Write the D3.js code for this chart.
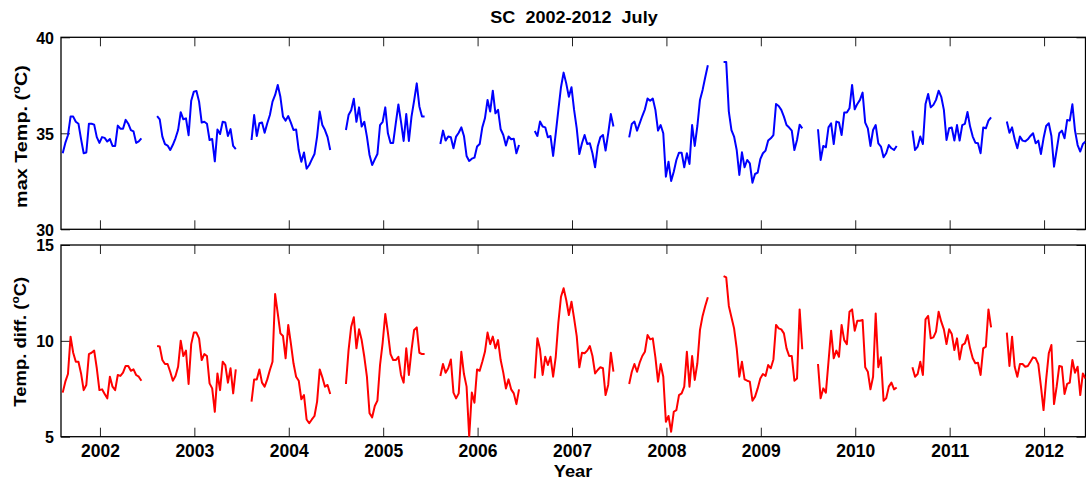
<!DOCTYPE html>
<html><head><meta charset="utf-8">
<script src="https://cdn.jsdelivr.net/npm/d3@7"></script>
<style>
html,body{margin:0;padding:0;background:#fff;}
svg{display:block;}
text{font-family:"Liberation Sans",Arial,Helvetica,sans-serif;font-weight:bold;fill:#000;}
</style></head><body>
<svg id="chart" width="1086" height="483"></svg>
<script>
// ---------------- data ----------------
const years = [2002,2003,2004,2005,2006,2007,2008,2009,2010,2011,2012];
const maxTempTicks = [30,35,40];
const tempDiffTicks = [5,10,15];
const titleText = "SC  2002-2012  July";

// daily values, July 1..31 of each year
const maxTemp = [
 [33.96,34.5,34.9,35.87,35.87,35.6,35.5,34.7,33.96,34.0,35.5,35.5,35.45,34.8,34.5,34.8,34.76,34.57,34.7,34.34,34.34,35.4,35.24,35.24,35.7,35.5,35.17,35.1,34.5,34.58,34.74],
 [35.9,35.73,34.83,34.44,34.36,34.13,34.4,34.74,35.17,36.1,35.73,35.78,34.9,36.7,37.17,37.2,36.65,35.56,35.6,35.5,34.65,34.7,33.54,35.2,34.96,35.6,35.56,34.86,35.22,34.34,34.17],
 [34.65,35.95,34.86,35.52,35.56,35.03,35.52,35.95,36.65,37.0,37.52,36.9,35.87,35.66,35.9,35.56,35.17,35.2,34.13,33.52,34.0,33.16,33.35,33.64,33.92,34.83,36.13,35.43,35.17,34.8,34.13],
 [35.17,35.95,36.2,36.8,35.6,36.35,35.35,35.6,34.83,33.87,33.35,33.64,33.92,35.43,35.6,36.35,35.0,34.5,34.5,35.52,36.5,35.6,34.6,36.0,34.6,35.87,36.7,37.6,36.4,35.87,35.87],
 [34.44,35.14,34.62,34.83,34.79,34.22,34.83,35.03,35.31,34.86,33.82,33.56,33.68,33.73,34.31,34.44,35.31,35.78,36.74,36.13,37.22,36.04,36.22,35.21,34.91,34.36,34.83,34.69,34.72,33.96,34.39],
 [35.12,34.86,35.61,35.35,35.31,34.79,34.86,33.82,35.0,36.22,37.4,38.16,37.6,36.9,37.4,36.22,35.26,33.92,34.48,34.91,34.44,34.48,33.96,33.23,34.31,34.79,34.91,34.1,35.0,36.0,35.35],
 [34.79,35.49,35.61,35.14,35.52,35.9,36.25,36.81,36.7,36.81,36.22,35.14,35.43,35.0,32.74,33.52,32.52,33.0,33.61,33.99,33.99,33.23,33.96,33.4,35.43,34.34,35.38,36.74,37.26,37.92,38.54],
 [38.72,38.72,36.13,35.17,34.83,34.13,32.83,34.01,33.23,33.61,33.44,32.43,32.88,32.95,33.65,33.96,34.1,34.62,34.74,34.91,36.53,36.42,36.22,35.87,35.43,35.3,35.14,34.13,34.65,35.45,35.26],
 [35.21,33.61,34.34,34.27,35.31,35.52,34.44,35.61,35.56,34.91,36.08,36.08,36.3,37.52,36.25,36.53,36.74,37.12,35.56,35.26,34.34,35.17,35.43,34.48,34.31,33.75,33.96,34.39,34.22,34.13,34.34],
 [35.14,34.13,34.31,34.83,34.44,36.53,37.05,36.35,36.48,36.74,37.22,36.9,36.22,34.65,35.26,35.3,34.62,35.43,34.62,35.43,35.49,36.11,35.35,34.83,34.51,34.48,33.96,35.3,35.26,35.66,35.83],
 [35.61,35.03,35.31,34.69,34.22,34.83,34.62,34.58,34.69,34.86,35.0,34.48,34.62,33.92,34.74,35.38,35.52,34.86,33.26,34.13,35.0,35.14,34.74,35.69,35.66,36.51,35.14,34.39,34.05,34.44,34.57]
];
const tempDiff = [
 [7.30,7.87,8.27,10.22,9.38,8.91,8.91,8.30,7.43,7.70,9.31,9.38,9.49,8.57,7.43,7.47,7.23,7.0,8.13,7.61,7.43,8.22,8.17,8.34,8.69,8.69,8.44,8.51,8.22,8.13,7.92],
 [9.73,9.70,9.0,8.79,8.79,8.39,7.92,8.17,8.65,10.01,9.21,9.49,7.75,9.83,10.43,10.43,10.13,9.0,9.31,9.21,7.78,7.52,6.30,8.30,7.43,8.91,8.74,7.82,8.57,7.26,8.51],
 [6.83,7.99,7.99,8.51,7.82,7.61,7.99,8.48,8.91,12.44,11.43,10.39,10.25,9.09,10.83,9.87,8.83,8.13,7.92,6.95,7.17,5.90,5.70,5.90,6.08,6.83,8.51,8.10,7.61,7.70,7.23],
 [7.75,9.52,10.74,11.23,9.61,10.60,10.04,9.17,8.13,6.22,6.01,6.60,6.88,8.74,9.90,11.40,10.43,9.31,9.0,9.0,9.17,8.22,7.82,9.61,8.22,9.52,10.57,10.70,9.38,9.31,9.31],
 [8.17,8.79,8.34,8.57,9.03,7.30,7.0,7.26,9.43,8.27,7.61,5.0,7.30,6.77,8.51,8.44,8.91,9.43,10.43,9.83,10.22,9.61,10.04,9.0,8.34,7.52,7.99,7.47,7.26,6.70,7.47],
 [8.04,10.13,9.56,8.22,9.17,8.74,9.17,8.13,9.17,10.95,12.30,12.74,12.13,11.35,12.04,11.17,10.25,8.62,9.38,9.35,9.49,9.73,9.21,8.30,8.48,8.62,8.57,7.17,7.70,9.38,8.39],
 [7.75,8.39,8.79,8.39,8.86,9.21,9.43,10.30,10.08,10.13,9.14,7.87,8.79,8.13,5.78,6.08,5.26,6.30,6.39,7.17,7.26,7.61,9.43,7.61,9.21,7.96,8.83,10.57,11.30,11.82,12.27],
 [13.38,13.31,11.82,11.23,10.65,9.61,8.13,8.91,7.99,7.92,7.87,6.88,7.09,7.52,8.04,8.27,8.17,8.74,8.57,9.03,10.83,10.65,10.60,10.39,9.61,9.21,9.21,7.92,8.04,11.64,9.56],
 [8.79,7.0,7.52,7.30,8.91,10.53,9.09,9.49,9.17,10.83,10.04,9.83,11.52,11.64,10.53,11.05,11.05,11.09,8.62,8.39,7.47,8.13,11.43,8.62,9.14,6.88,7.0,7.61,7.82,7.47,7.57],
 [8.62,8.13,8.27,8.91,8.22,11.12,11.30,10.13,10.18,10.48,11.52,11.0,10.60,9.83,10.60,10.36,9.52,10.13,9.03,9.78,9.87,10.30,9.61,9.09,8.83,8.86,8.22,9.61,9.70,11.64,10.70],
 [10.43,8.69,10.22,8.65,8.13,8.79,8.79,8.65,8.69,8.91,9.14,9.09,8.79,7.64,6.39,7.99,9.35,9.78,6.70,7.61,8.69,8.65,7.23,7.75,7.82,9.0,8.34,8.65,7.17,8.30,8.04]
];

// ---------------- layout ----------------
const svg = d3.select('#chart');
const slot = 36;        // index slots per year (31 days + gap)
const tickDay = 14.2;   // position of the year tick inside its slot
const X0 = 61, X1 = 1085.5;
const x = d3.scaleLinear().domain([-0.65, (years.length-1)*slot + 30]).range([X0, X1]);

function toPoints(rows){
  const pts = [];
  rows.forEach((row, j) => {
    row.forEach((v, d) => pts.push({i: j*slot + d, v}));
    pts.push({i: j*slot + 31, v: NaN});
  });
  return pts;
}

function panel(id, top, bottom, domain, ticks, rows, color, showYears){
  const y = d3.scaleLinear().domain(domain).range([bottom, top]);
  const g = svg.append('g');
  g.append('clipPath').attr('id', 'clip'+id).append('rect')
    .attr('x', X0).attr('y', top).attr('width', X1-X0).attr('height', bottom-top);

  const tickPos = years.map((yr, j) => j*slot + tickDay);
  const strip = s => s.select('.domain').remove();

  const axB = g.append('g').attr('transform', `translate(0,${bottom})`)
    .call(d3.axisBottom(x).tickValues(tickPos).tickSize(-9).tickPadding(8)
      .tickFormat((d, k) => showYears ? years[k] : ''));
  strip(axB);
  strip(g.append('g').attr('transform', `translate(0,${top})`)
    .call(d3.axisTop(x).tickValues(tickPos).tickSize(-9).tickFormat('')));
  const axL = g.append('g').attr('transform', `translate(${X0},0)`)
    .call(d3.axisLeft(y).tickValues(ticks).tickSize(-9).tickPadding(7));
  strip(axL);
  strip(g.append('g').attr('transform', `translate(${X1},0)`)
    .call(d3.axisRight(y).tickValues(ticks).tickSize(-9).tickFormat('')));

  g.selectAll('.tick line').attr('stroke', '#222').attr('stroke-width', 1);
  axL.selectAll('text').attr('font-size', null).style('font-size', '16px').attr('dy', '0.36em');
  axB.selectAll('text').style('font-size', '17.5px');
  g.selectAll('.tick text').attr('font-family', null);

  g.append('rect').attr('x', X0).attr('y', top).attr('width', X1-X0).attr('height', bottom-top)
    .attr('fill', 'none').attr('stroke', '#000').attr('stroke-width', 1.3);

  const line = d3.line().defined(d => !isNaN(d.v)).x(d => x(d.i)).y(d => y(d.v));
  g.append('path').datum(toPoints(rows))
    .attr('clip-path', `url(#clip${id})`)
    .attr('d', line).attr('fill', 'none').attr('stroke', color)
    .attr('stroke-width', 2).attr('stroke-linejoin', 'round');
}

panel('a', 37.3, 229.3, [30,40], maxTempTicks, maxTemp, '#0000ff', false);
panel('b', 245, 436.7, [5,15], tempDiffTicks, tempDiff, '#ff0000', true);

// ---------------- text ----------------
function fit(t, target, tx, ty, rot){
  const w = t.node().getBBox().width;
  const s = target / w;
  t.attr('transform', `translate(${tx},${ty})` + (rot ? ` rotate(${rot})` : '') + ` scale(${s},1)`);
}

const title = svg.append('text').attr('text-anchor', 'middle').style('font-size', '17px')
  .style('white-space', 'pre').attr('xml:space', 'preserve').text(titleText);
fit(title, 168, 574, 23.3, 0);

function ylab(main, cx, cy, len){
  const t = svg.append('text').attr('text-anchor', 'middle').style('font-size', '17px');
  t.append('tspan').text(main + ' (');
  t.append('tspan').text('o').style('font-size', '11px').attr('dy', -7);
  t.append('tspan').text('C)').attr('dy', 7);
  fit(t, len, cx, cy, -90);
}
ylab('max Temp.', 27, 136.5, 143);
ylab('Temp. diff.', 26, 341.7, 130);

const xlab = svg.append('text').attr('text-anchor', 'middle')
  .style('font-size', '17px').text('Year');
fit(xlab, 39, 573, 477.2, 0);
</script>
</body></html>
